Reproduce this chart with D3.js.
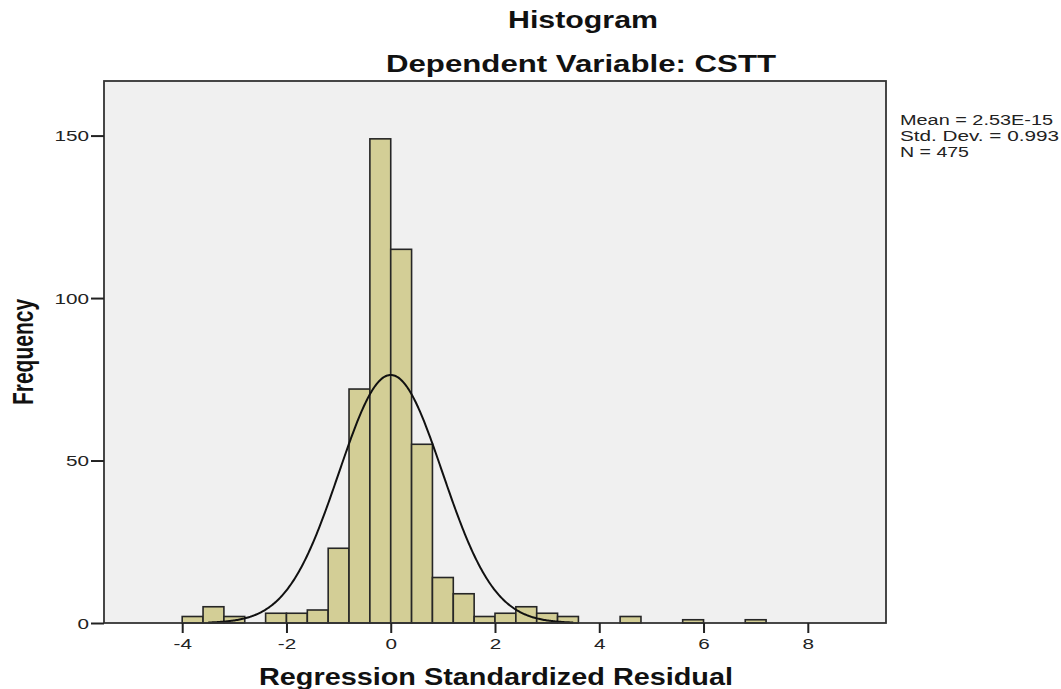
<!DOCTYPE html>
<html>
<head>
<meta charset="utf-8">
<script src="https://cdn.jsdelivr.net/npm/d3@7"></script>
<style>
  body { margin: 0; background: #fff; }
  svg text { font-family: "Liberation Sans", Arial, sans-serif; }
</style>
</head>
<body>
<div class="chart"></div>
<script>
// histogram bins (lower edge, width 0.4) and counts
var binStart = -4, binWidth = 0.4;
var counts = [2,5,2,0,3,3,4,23,72,149,115,55,14,9,2,3,5,3,2,0,0,2,0,0,1,0,0,1];
var xTicks = [-4,-2,0,2,4,6,8];
var yTicks = [0,50,100,150];
var stats = ["Mean = 2.53E-15", "Std. Dev. = 0.993", "N = 475"];
var mean = 0, sd = 0.993, n = 475;

var width = 1061, height = 689;
var plot = {left: 104, top: 81, right: 886, bottom: 623};
var stretch = 1.38; // the original picture is wider than tall text would be

var svg = d3.select(".chart").append("svg")
    .attr("width", width)
    .attr("height", height);

var x = d3.scaleLinear().domain([-5.5, 9.5]).range([plot.left, plot.right]);
var y = d3.scaleLinear().domain([0, 166.8]).range([plot.bottom, plot.top]);

svg.append("rect")
    .attr("x", plot.left).attr("y", plot.top)
    .attr("width", plot.right - plot.left).attr("height", plot.bottom - plot.top)
    .attr("fill", "#f0f0f0");

var bins = counts.map(function(c, i){
  return {x0: binStart + i*binWidth, x1: binStart + (i+1)*binWidth, count: c};
}).filter(function(d){ return d.count > 0; });

svg.append("g").selectAll("rect")
    .data(bins)
  .enter().append("rect")
    .attr("x", d => x(d.x0))
    .attr("y", d => y(d.count))
    .attr("width", d => x(d.x1) - x(d.x0))
    .attr("height", d => y(0) - y(d.count))
    .attr("fill", "#d3ce96")
    .attr("stroke", "#262626")
    .attr("stroke-width", 1.6);

// normal curve
var curve = d3.range(-5.5, 9.5, 0.02).map(function(v){
  var z = (v - mean) / sd;
  return [v, n * binWidth * Math.exp(-0.5*z*z) / (sd * Math.sqrt(2*Math.PI))];
});
svg.append("path")
    .datum(curve.filter(d => d[1] > 0.15))
    .attr("fill", "none")
    .attr("stroke", "#111")
    .attr("stroke-width", 2)
    .attr("d", d3.line().x(d => x(d[0])).y(d => y(d[1])));

// frame
svg.append("rect")
    .attr("x", plot.left).attr("y", plot.top)
    .attr("width", plot.right - plot.left).attr("height", plot.bottom - plot.top)
    .attr("fill", "none")
    .attr("stroke", "#333")
    .attr("stroke-width", 1.8);

var xAxis = svg.append("g")
    .attr("transform", "translate(0," + plot.bottom + ")")
    .call(d3.axisBottom(x).tickValues(xTicks).tickFormat(d => String(d)).tickSize(10).tickPadding(4));
var yAxis = svg.append("g")
    .attr("transform", "translate(" + plot.left + ",0)")
    .call(d3.axisLeft(y).tickValues(yTicks).tickFormat(d => String(d)).tickSize(13).tickPadding(2));

[xAxis, yAxis].forEach(function(a){
  a.select(".domain").remove();
  a.selectAll("line").attr("stroke", "#222").attr("stroke-width", 2);
  a.selectAll("text").attr("font-size", 15).attr("fill", "#222")
    .style("font-family", "Liberation Sans, Arial, sans-serif")
    .attr("transform", "scale(" + stretch + ",1)");
});
yAxis.selectAll("text").attr("x", -15 / stretch).attr("dy", "0.36em");
xAxis.selectAll("text").attr("dy", "0.8em");

function label(px, py, size, len, txt, bold) {
  return svg.append("text")
    .attr("x", px).attr("y", py)
    .attr("font-size", size)
    .attr("font-weight", bold ? "bold" : "normal")
    .attr("fill", "#111")
    .attr("textLength", len)
    .attr("lengthAdjust", "spacingAndGlyphs")
    .text(txt);
}

label(508, 28, 23, 150, "Histogram", true);
label(386, 72, 23, 390, "Dependent Variable: CSTT", true);
label(259, 685, 23, 474, "Regression Standardized Residual", true);

svg.append("text")
    .attr("transform", "translate(33,352) scale(" + stretch + ",1) rotate(-90)")
    .attr("text-anchor", "middle")
    .attr("font-size", 21).attr("font-weight", "bold").attr("fill", "#111")
    .text("Frequency");

var statLen = [153, 159, 69];
stats.forEach(function(s, i){
  label(900, 125 + i*16, 14, statLen[i], s, false).attr("fill", "#222");
});
</script>
</body>
</html>
